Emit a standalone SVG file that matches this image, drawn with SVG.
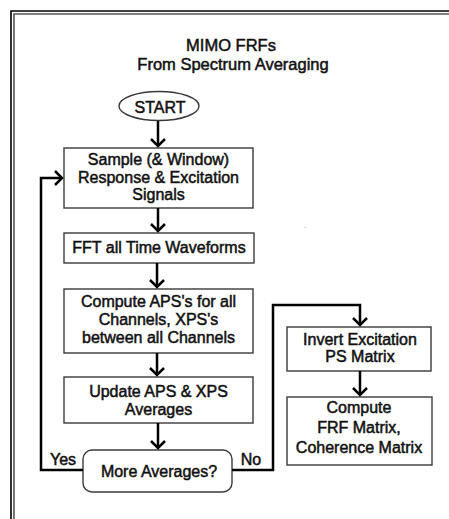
<svg xmlns="http://www.w3.org/2000/svg" width="449" height="519" viewBox="0 0 449 519">
<style>
text{font-family:"Liberation Sans",Arial,sans-serif;font-size:16px;fill:#111;stroke:#111;stroke-width:0.5;text-anchor:middle}
.box{fill:#fff;stroke:#3a3a3a;stroke-width:1.4}
.conn{fill:none;stroke:#000;stroke-width:2.5;stroke-linejoin:miter}
.head{fill:none;stroke:#000;stroke-width:2.5}
</style>
<rect width="449" height="519" fill="#fff"/>
<g id="frame">
<path d="M11,530 V11 H460" fill="none" stroke="#000" stroke-width="1.6"/>
<path d="M14,530 V14 H460" fill="none" stroke="#555" stroke-width="1.6"/>
</g>
<g id="title">
<text x="231" y="51" style="font-size:16.5px">MIMO FRFs</text>
<text x="233" y="70" style="font-size:16.5px">From Spectrum Averaging</text>
</g>
<g id="start">
<ellipse cx="159" cy="106" rx="40" ry="14.5" fill="#fff" stroke="#3a3a3a" stroke-width="1.4"/>
<text x="160" y="113">START</text>
</g>
<g id="sample">
<rect class="box" x="64" y="148" width="189" height="60"/>
<text x="158.5" y="165">Sample (&amp; Window)</text>
<text x="158.5" y="183">Response &amp; Excitation</text>
<text x="158.5" y="200">Signals</text>
</g>
<g id="fft">
<rect class="box" x="64" y="233" width="190" height="30"/>
<text x="159" y="253">FFT all Time Waveforms</text>
</g>
<g id="compute-aps">
<rect class="box" x="64" y="289" width="189" height="64"/>
<text x="158.5" y="307">Compute APS's for all</text>
<text x="158.5" y="325">Channels, XPS's</text>
<text x="158.5" y="343">between all Channels</text>
</g>
<g id="update">
<rect class="box" x="64" y="377" width="189" height="46"/>
<text x="158.5" y="397">Update APS &amp; XPS</text>
<text x="158.5" y="415">Averages</text>
</g>
<g id="more">
<rect class="box" x="83" y="450" width="149" height="42" rx="9"/>
<text x="159" y="477">More Averages?</text>
</g>
<g id="invert">
<rect class="box" x="287" y="327" width="144" height="44"/>
<text x="360" y="345">Invert Excitation</text>
<text x="360" y="362">PS Matrix</text>
</g>
<g id="compute-frf">
<rect class="box" x="287" y="397" width="145" height="68"/>
<text x="359" y="413">Compute</text>
<text x="359" y="433">FRF Matrix,</text>
<text x="359" y="453">Coherence Matrix</text>
</g>
<g id="connectors">
<path class="conn" d="M158,121 V146"/>
<path class="head" d="M151,139 L158,146 L165,139"/>
<path class="conn" d="M158,208 V231"/>
<path class="head" d="M151,224 L158,231 L165,224"/>
<path class="conn" d="M157,263 V287"/>
<path class="head" d="M150,280 L157,287 L164,280"/>
<path class="conn" d="M157,353 V375"/>
<path class="head" d="M150,368 L157,375 L164,368"/>
<path class="conn" d="M158,423 V448"/>
<path class="head" d="M151,441 L158,448 L165,441"/>
<path class="conn" d="M83,470 H41 V178 H62"/>
<path class="head" d="M55,171 L62,178 L55,185"/>
<path class="conn" d="M232,470 H273 V305 H360 V325"/>
<path class="head" d="M353,318 L360,325 L367,318"/>
<path class="conn" d="M360,371 V395"/>
<path class="head" d="M353,388 L360,395 L367,388"/>
<text x="63" y="465">Yes</text>
<text x="251" y="465">No</text>
</g>
<rect x="304.5" y="227" width="1" height="1" fill="#bbb"/>
</svg>
